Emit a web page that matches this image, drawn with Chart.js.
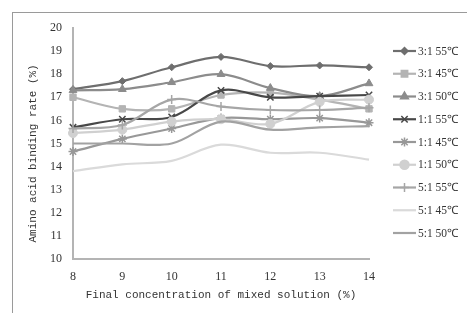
<!DOCTYPE html>
<html><head><meta charset="utf-8">
<script src="https://cdn.jsdelivr.net/npm/chart.js@4"></script>
<style>
html,body{margin:0;padding:0;background:#fff;}
#wrap{position:relative;width:467px;height:313px;overflow:hidden;}
#frame{position:absolute;left:12px;top:12px;width:470px;height:320px;border-left:1px solid #9a9a9a;border-top:1px solid #9a9a9a;box-sizing:border-box;}
canvas{position:absolute;left:0;top:0;}
</style></head>
<body><div id="wrap"><div id="frame"></div><canvas id="c" width="467" height="313"></canvas></div>
<script>
const categories = ['8','9','10','11','12','13','14'];
const seriesNames = ['3:1 55℃','3:1 45℃','3:1 50℃','1:1 55℃','1:1 45℃','1:1 50℃','5:1 55℃','5:1 45℃','5:1 50℃'];
const s_31_55 = [17.35,17.7,18.3,18.75,18.35,18.38,18.3];
const s_31_45 = [17.0,16.5,16.5,17.1,17.2,16.9,16.5];
const s_31_50 = [17.3,17.35,17.65,18.0,17.4,17.05,17.6];
const s_11_55 = [15.7,16.05,16.15,17.3,17.0,17.05,17.1];
const s_11_45 = [14.65,15.2,15.65,16.1,16.05,16.1,15.9];
const s_11_50 = [15.45,15.6,15.95,16.05,15.85,16.8,16.9];
const s_51_55 = [15.65,15.8,16.9,16.6,16.45,16.45,16.55];
const s_51_45 = [13.8,14.1,14.25,14.95,14.6,14.6,14.3];
const s_51_50 = [15.0,15.0,15.0,15.95,15.6,15.7,15.75];
const yTicks = [10,11,12,13,14,15,16,17,18,19,20];

const values = [s_31_55,s_31_45,s_31_50,s_11_55,s_11_45,s_11_50,s_51_55,s_51_45,s_51_50];
const colors = ['#6e6e6e','#b4b4b4','#8c8c8c','#484848','#989898','#d0d0d0','#a6a6a6','#dadada','#a2a2a2'];
const markers = ['rectRot','rect','triangle','crossRot','star','circle','cross',false,false];
const radii = [3.5,4.5,4.5,4.5,4.5,4.5,4.5,0,0];

const datasets = values.map((v,i)=>({
  label: seriesNames[i],
  data: v,
  borderColor: colors[i],
  backgroundColor: colors[i],
  borderWidth: 2.2,
  pointStyle: markers[i] || 'circle',
  pointRadius: radii[i],
  pointBorderWidth: (markers[i]==='crossRot'||markers[i]==='star'||markers[i]==='cross')?1.5:1,
  pointBorderColor: colors[i],
  pointBackgroundColor: colors[i],
  tension: 0.35,
  cubicInterpolationMode: 'default'
}));
datasets.reverse();

const legendPlugin = {
  id: 'customLegend',
  afterDraw(chart){
    const ctx = chart.ctx;
    ctx.save();
    const x0 = 393, x1 = 416, tx = 418, y0 = 51, dy = 22.75;
    seriesNames.forEach((name,i)=>{
      const y = y0 + i*dy;
      ctx.strokeStyle = colors[i];
      ctx.lineWidth = 2.2;
      ctx.beginPath(); ctx.moveTo(x0,y); ctx.lineTo(x1,y); ctx.stroke();
      if (markers[i]) {
        ctx.fillStyle = colors[i];
        ctx.lineWidth = 1.5;
        Chart.helpers.drawPoint(ctx,{pointStyle:markers[i],radius:radii[i],rotation:0,borderWidth:1.5},(x0+x1)/2,y);
      }
      ctx.fillStyle = '#333';
      ctx.font = '11.5px "Liberation Serif"';
      ctx.textAlign = 'left';
      ctx.textBaseline = 'middle';
      ctx.fillText(name, tx, y+0.5);
    });
    ctx.restore();
  }
};

new Chart(document.getElementById('c'), {
  type: 'line',
  data: { labels: categories, datasets },
  plugins: [legendPlugin],
  options: {
    responsive: false,
    animation: false,
    layout: { padding: { left: 0, right: 98, top: 28, bottom: 0 } },
    plugins: { legend: { display: false }, tooltip: { enabled: false } },
    scales: {
      x: {
        type: 'category',
        offset: false,
        grid: { display: false, drawTicks: false },
        border: { display: true, color: '#b4b4b4', width: 2 },
        ticks: { color: '#333', font: { family: 'Liberation Serif', size: 12 }, padding: 11, maxRotation: 0 },
        title: { display: true, text: 'Final concentration of mixed solution (%)', color: '#333',
                 font: { family: 'Liberation Mono', size: 11 }, padding: { top: 0, bottom: 11 } },
        afterFit(s){ s.height = 54; }
      },
      y: {
        min: 10, max: 20,
        afterBuildTicks(s){ s.ticks = yTicks.map(v=>({value:v})); },
        grid: { display: false, drawTicks: false },
        border: { display: true, color: '#b4b4b4', width: 2 },
        ticks: { color: '#333', font: { family: 'Liberation Serif', size: 12 }, padding: 11 },
        title: { display: true, text: 'Amino acid binding rate (%)   ', color: '#333',
                 font: { family: 'Liberation Mono', size: 11 }, padding: { top: 26, bottom: 0 } },
        afterFit(s){ s.width = 73; }
      }
    }
  }
});
</script></body></html>
